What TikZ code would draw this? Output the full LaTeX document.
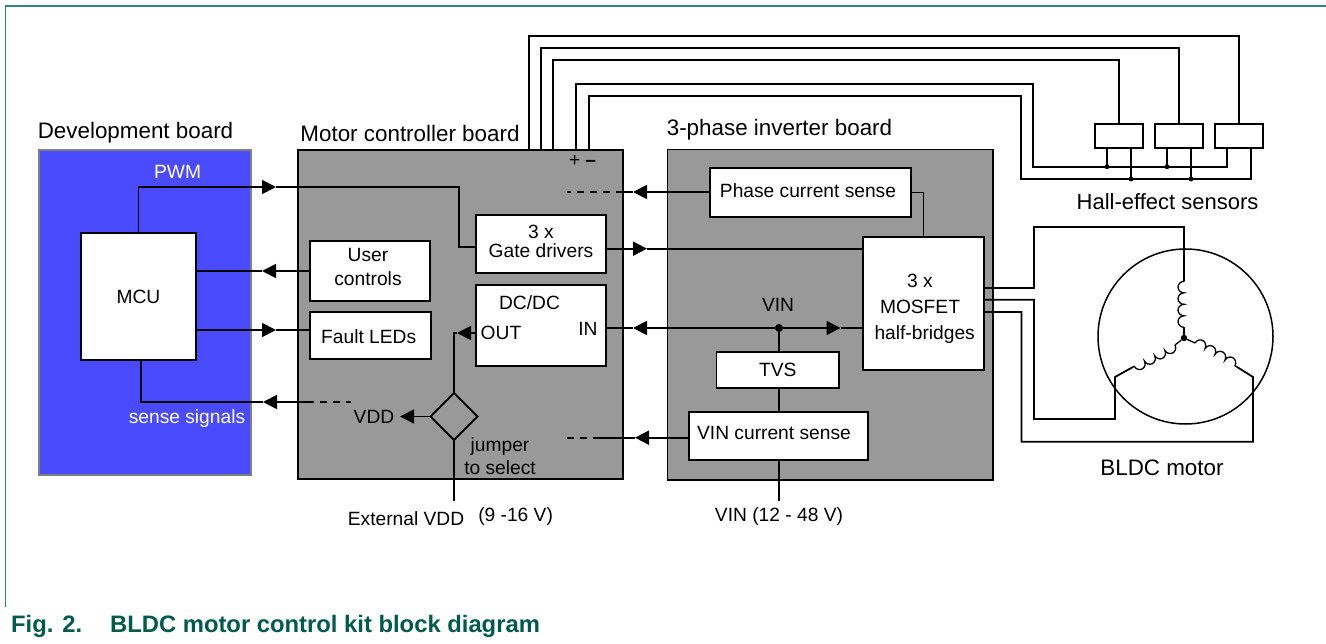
\documentclass[tikz,border=0pt]{standalone}
\usepackage{fontspec}
\setmainfont{Liberation Sans}
\usetikzlibrary{arrows.meta,calc,shapes.geometric,decorations.pathmorphing}
\definecolor{devblue}{HTML}{4A4AFF}
\definecolor{boardgrey}{HTML}{999999}
\definecolor{framegreen}{HTML}{2E8A7C}
\definecolor{captiongreen}{HTML}{005A4E}

\begin{document}
\begin{tikzpicture}[x=1pt,y=-1pt,font=\fontsize{19.2}{24}\selectfont,
 wire/.style={line width=1.8pt},
 feed/.style={wire,-{Triangle[length=14pt,width=14pt]}},
 stub/.style={wire,dash pattern=on 7pt off 6pt},
 winding/.style={line width=1.3pt,decorate,decoration={bumps,segment length=23pt,amplitude=6pt}},
 board/.style={draw=black,fill=boardgrey,line width=1.8pt,inner sep=0pt,outer sep=0pt},
 block/.style={draw=black,fill=white,line width=1.8pt,inner sep=0pt,outer sep=0pt,align=center},
 label/.style={inner sep=0pt,align=center},
 title/.style={inner sep=0pt,font=\fontsize{22.4}{24}\selectfont},
 tap/.style={circle,fill=black,inner sep=0pt,minimum size=5pt}]
\useasboundingbox (0,0) rectangle (1326,644);
\draw[framegreen,line width=1.4pt] (5.5,607) -- (5.5,6) -- (1326,6);
\node[inner sep=0pt,anchor=west,text=captiongreen,font=\fontsize{23.8}{24}\selectfont\bfseries] (caption) at (11,626) {Fig. 2.\hspace{28pt}BLDC motor control kit block diagram};
% 1: the three boards
\node[board,draw=gray,fill=devblue,minimum width=212pt,minimum height=325pt] (devboard) at (145,312.5) {};
\node[board,minimum width=325pt,minimum height=329pt] (ctrlboard) at (460.5,314.5) {};
\node[board,minimum width=325.5pt,minimum height=330.5pt] (invboard) at (830.25,314.75) {};
\node[title] (devtitle) at (135.5,133) {Development board};
\node[title] (ctrltitle) at (410,133) {Motor controller board};
\node[title] (invtitle) at (779.5,130) {3-phase inverter board};
% 2: blocks on the boards
\node[block,minimum width=115pt,minimum height=127pt] (mcu) at (138.5,296.5) {MCU};
\node[block,minimum width=120pt,minimum height=60pt] (user) at (370,271) {};
\node[block,minimum width=121pt,minimum height=47pt] (fault) at (370.5,335.5) {};
\node[block,minimum width=130pt,minimum height=58pt] (gate) at (541,244) {};
\node[block,minimum width=130pt,minimum height=81pt] (dcdc) at (541,325.5) {};
\node[block,minimum width=201pt,minimum height=49pt] (phase) at (810.5,192.5) {};
\node[block,minimum width=121pt,minimum height=133pt] (mosfet) at (923.5,303.5) {};
\node[block,minimum width=122.5pt,minimum height=36pt] (tvs) at (777.75,370) {TVS};
\node[block,minimum width=179pt,minimum height=48pt] (vinsense) at (778.5,436) {};
\node[draw=black,line width=2pt,diamond,inner sep=0pt,outer sep=0pt,minimum width=47pt,minimum height=47pt] (jumper) at (454,416.5) {};
\node[label] (usertext) at (368,266.7) {User\\controls};
\node[label] (faulttext) at (368.7,337) {Fault LEDs};
\node[label] (gatetext) at (541,241) {3 x\\[-5pt]Gate drivers};
\node[label] (dcdctext) at (529.5,303) {DC/DC};
\node[label] (outtext) at (501,333) {OUT};
\node[label] (intext) at (588,329) {IN};
\node[label] (phasetext) at (808,191) {Phase current sense};
\node[label] (mosfettext) at (920,294) {3 x\\[2pt]MOSFET};
\node[label] (halftext) at (924.7,334.7) {half-bridges};
\node[label] (sensetext) at (774,433) {VIN current sense};
% 3: free labels
\node[label,text=white] (pwmtext) at (177.6,172) {PWM};
\node[label,text=white] (sigtext) at (187,419) {sense signals};
\node[label] (plusminus) at (582.5,161) {+\hspace{5pt}\textbf{--}};
\node[label] (vddtext) at (374,417) {VDD};
\node[label] (jumpertext) at (500,456.5) {jumper\\[-1pt]to select};
\node[label] (extvdd) at (406,519) {External VDD};
\node[label] (extrange) at (515.6,517) {(9 -16 V)};
\node[label] (vintext) at (778,305) {VIN};
\node[label] (vinrange) at (779,516.7) {VIN (12 - 48 V)};
\node[label,font=\fontsize{22}{24}\selectfont] (halltext) at (1167.6,201.7) {Hall-effect sensors};
\node[label,font=\fontsize{22.4}{24}\selectfont] (motortext) at (1162,468) {BLDC motor};
% 4: signals between the boards
\coordinate (pwmtip) at (276,187);
\coordinate (pwmbend) at (459,187);
\coordinate (gatein) at (476,246.7);
\draw[feed] (mcu.north) |- (pwmtip);
\draw[wire] (pwmtip) -- (pwmbend) |- (gatein);
\coordinate (usertip) at (262,271);
\draw[feed] (user.west) -- (usertip);
\draw[wire] (usertip) -- (mcu.east |- usertip);
\coordinate (faulttip) at (276,330);
\draw[feed] (mcu.east |- faulttip) -- (faulttip);
\draw[wire] (faulttip) -- (fault.west |- faulttip);
\coordinate (senseout) at (141,360);
\coordinate (sensetip) at (263,402);
\coordinate (sensedash) at (307,402);
\coordinate (senseend) at (351,402);
\draw[wire] (senseout) |- (sensetip);
\draw[feed] (sensedash) -- (sensetip);
\draw[stub] (sensedash) -- (senseend);
\coordinate (phasetip) at (633,192);
\coordinate (phaseend) at (567,192);
\draw[feed] (phase.west |- phasetip) -- (phasetip);
\draw[wire] (phasetip) -- (ctrlboard.east |- phasetip);
\draw[stub] (ctrlboard.east |- phasetip) -- (phaseend);
\draw[wire] (phase.east) -| (mosfet.north);
\coordinate (gatetip) at (647,248.7);
\draw[feed] (gate.east |- gatetip) -- (gatetip);
\draw[wire] (gatetip) -- (mosfet.west |- gatetip);
\coordinate (sensetipb) at (635,437.7);
\coordinate (sensedashb) at (600,437.7);
\coordinate (senseendb) at (567,437.7);
\draw[feed] (vinsense.west |- sensetipb) -- (sensetipb);
\draw[wire] (sensetipb) -- (sensedashb);
\draw[stub] (sensedashb) -- (senseendb);
% 5: supply
\node[tap,minimum size=8pt] (vindot) at (779,328) {};
\coordinate (intip) at (633,328);
\coordinate (mosfettip) at (840.5,328);
\coordinate (vinend) at (779,501);
\draw[feed] (vindot) -- (intip);
\draw[wire] (intip) -- (dcdc.east |- intip);
\draw[feed] (vindot) -- (mosfettip);
\draw[wire] (mosfettip) -- (mosfet.west |- mosfettip);
\draw[wire] (vindot) -- (vindot |- tvs.north);
\draw[wire] (vindot |- tvs.south) -- (vindot |- vinsense.north);
\draw[wire] (vindot |- vinsense.south) -- (vinend);
\coordinate (outtip) at (457,333);
\coordinate (vddtip) at (400,416.5);
\coordinate (extend) at (454,501);
\draw[feed] (dcdc.west |- outtip) -- (outtip);
\draw[wire] (outtip) -| (jumper.north);
\draw[feed] (jumper.west) -- (vddtip);
\draw[wire] (jumper.south) -- (extend);
% 6: Hall-effect sensors
\foreach \h/\x in {halla/1119,hallb/1179,hallc/1239} {
 \node[block,minimum width=48.5pt,minimum height=24.5pt] (\h) at (\x,136) {};
 \coordinate (\h-l) at ($(\h.south)+(-12,0)$);
 \coordinate (\h-r) at ($(\h.south)+(12,0)$);
}
\foreach \p/\x/\y/\h in {a/528.6/35.7/hallc,b/541/48/hallb,c/552.6/60/halla} {
 \coordinate (port\p) at (\x,150);
 \coordinate (top\p) at (\x,\y);
 \draw[wire] (port\p) -- (top\p) -| (\h.north);
}
\coordinate (portd) at (576,150);
\coordinate (topd) at (1033,83.7);
\coordinate (busd) at (1033,166.7);
\coordinate (porte) at (589,150);
\coordinate (tope) at (1021,95.7);
\coordinate (buse) at (1021,179);
\draw[wire] (portd) |- (topd) -- (busd) -| (hallc-l);
\draw[wire] (porte) |- (tope) -- (buse) -| (hallc-r);
\foreach \h in {halla,hallb} {
 \draw[wire] (\h-l) -- (\h-l |- busd) node[tap] (\h-dotl) {};
 \draw[wire] (\h-r) -- (\h-r |- buse) node[tap] (\h-dotr) {};
}
% 7: motor and its three windings
\node[draw=black,line width=1.5pt,circle,inner sep=0pt,outer sep=0pt,minimum size=175pt] (motor) at (1185.5,336.5) {};
\node[tap,minimum size=6.5pt] (star) at (1184,338) {};
\coordinate (ucoila) at (1184,327.3);
\coordinate (ucoilb) at (1184,281);
\coordinate (vcoila) at (1175,345);
\coordinate (vcoilb) at (1133,367);
\coordinate (wcoila) at (1195,343);
\coordinate (wcoilb) at (1237,367);
\foreach \c in {u,v,w} {
 \draw[line width=1.3pt] (star) -- (\c coila);
 \draw[winding] (\c coila) -- (\c coilb);
}
\coordinate (uout) at (mosfet.east |- 0,288);
\coordinate (vout) at (mosfet.east |- 0,299.7);
\coordinate (wout) at (mosfet.east |- 0,312);
\coordinate (ubend) at (1034,226.7);
\coordinate (vbend) at (1034,419);
\coordinate (vcorner) at (1115,377);
\coordinate (wbend) at (1021.5,441.7);
\coordinate (wcorner) at (1253,377);
\draw[wire] (uout) -| (ubend) -| (ucoilb);
\draw[wire] (vout) -| (vbend) -| (vcorner) -- (vcoilb);
\draw[wire] (wout) -| (wbend) -| (wcorner) -- (wcoilb);
\end{tikzpicture}
\end{document}
